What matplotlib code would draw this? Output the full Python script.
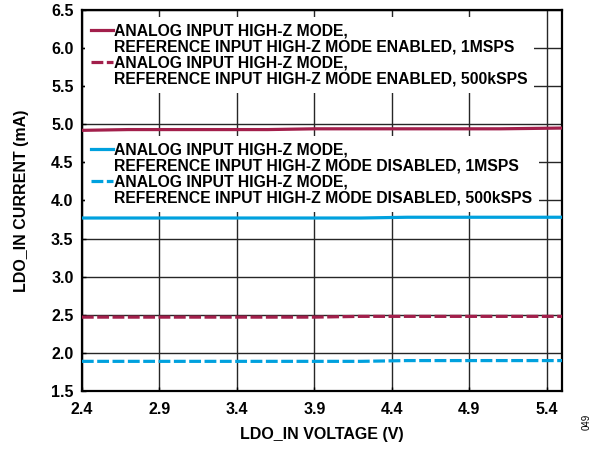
import numpy as np
import matplotlib
matplotlib.use("Agg")
import matplotlib.pyplot as plt
from matplotlib.lines import Line2D

plt.rcParams['font.family'] = ['Liberation Sans', 'DejaVu Sans']
plt.rcParams['font.weight'] = 'bold'

# LDO_IN voltage (V)
voltage = [2.4, 2.7, 3.0, 3.3, 3.6, 3.9, 4.2, 4.5, 4.8, 5.1, 5.5]

# LDO_IN current (mA)
en_1msps = [4.92, 4.93, 4.93, 4.93, 4.93, 4.94, 4.94, 4.94, 4.94, 4.94, 4.95]
en_500k = [2.47, 2.47, 2.47, 2.47, 2.47, 2.47, 2.48, 2.48, 2.48, 2.48, 2.48]
dis_1msps = [3.77, 3.77, 3.77, 3.77, 3.77, 3.77, 3.77, 3.78, 3.78, 3.78, 3.78]
dis_500k = [1.89, 1.89, 1.89, 1.89, 1.89, 1.89, 1.89, 1.90, 1.90, 1.90, 1.90]

# legend text, one entry per printed line
labels_en = ['ANALOG INPUT HIGH-Z MODE,', 'REFERENCE INPUT HIGH-Z MODE ENABLED, 1MSPS',
             'ANALOG INPUT HIGH-Z MODE,', 'REFERENCE INPUT HIGH-Z MODE ENABLED, 500kSPS']
labels_dis = ['ANALOG INPUT HIGH-Z MODE,', 'REFERENCE INPUT HIGH-Z MODE DISABLED, 1MSPS',
              'ANALOG INPUT HIGH-Z MODE,', 'REFERENCE INPUT HIGH-Z MODE DISABLED, 500kSPS']

xticks = [2.4, 2.9, 3.4, 3.9, 4.4, 4.9, 5.4]
yticks = [1.5, 2.0, 2.5, 3.0, 3.5, 4.0, 4.5, 5.0, 5.5, 6.0, 6.5]

maroon = '#A21F4B'
blue = '#00A1DE'
dash = (3.7, 1.1)

fig = plt.figure(figsize=(6.02, 4.49), dpi=100)
ax = fig.add_axes([0.136, 0.129, 0.798, 0.849])

ax.plot(voltage, en_1msps, color=maroon, lw=2.3, zorder=3)
ax.plot(voltage, en_500k, color=maroon, lw=2.3, dashes=dash, zorder=3)
ax.plot(voltage, dis_1msps, color=blue, lw=2.3, zorder=3)
ax.plot(voltage, dis_500k, color=blue, lw=2.3, dashes=dash, zorder=3)

ax.set_xlim(2.4, 5.5)
ax.set_ylim(1.5, 6.5)
ax.set_xticks(xticks)
ax.set_yticks(yticks)
ax.set_xticklabels([f'{v:.1f}' for v in xticks])
ax.set_yticklabels([f'{v:.1f}' for v in yticks])
ax.grid(True, color='0.15', lw=1.0)
ax.set_axisbelow(True)
ax.tick_params(direction='in', length=3, width=1, labelsize=11.5)
ax.tick_params(axis='x', pad=8)
ax.tick_params(axis='y', pad=6)
for s in ax.spines.values():
    s.set_linewidth(1.6)

ax.set_xlabel('LDO_IN VOLTAGE (V)', fontsize=11.5, fontweight='bold', labelpad=7)
ax.set_ylabel('LDO_IN CURRENT (mA)', fontsize=11.5, fontweight='bold', labelpad=16)

def make_legend(handles, labels, top):
    leg = ax.legend(handles, labels, loc='upper left', bbox_to_anchor=(-0.009, top),
                    frameon=True, fancybox=False, framealpha=1, facecolor='white',
                    edgecolor='none', handlelength=1.4, handletextpad=0.08,
                    borderpad=0.4, borderaxespad=0.45, labelspacing=0.08,
                    prop={'weight': 'bold', 'size': 11.3})
    return leg

blank = Line2D([], [], color='none')
h_en = [Line2D([], [], color=maroon, lw=2.3), blank,
        Line2D([], [], color=maroon, lw=2.3, dashes=dash), blank]
h_dis = [Line2D([], [], color=blue, lw=2.3), blank,
         Line2D([], [], color=blue, lw=2.3, dashes=dash), blank]
leg1 = make_legend(h_en, labels_en, 1.0)
ax.add_artist(leg1)
make_legend(h_dis, labels_dis, 0.688)

fig.text(0.975, 0.06, '049', rotation=90, fontsize=7, fontweight='normal', ha='center', va='center')

fig.savefig('out.png', dpi=100)
